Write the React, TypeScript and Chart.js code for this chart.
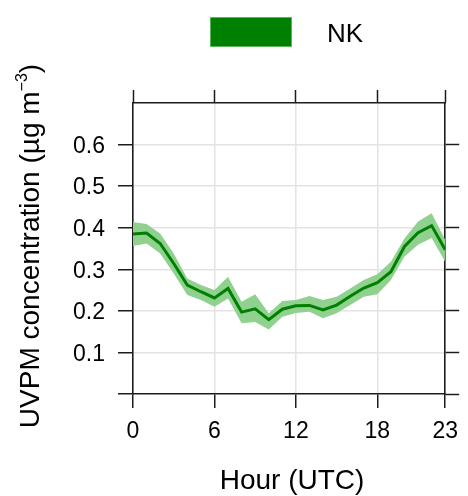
import React, { useEffect, useRef } from 'react';
import { Chart, registerables } from 'chart.js';

Chart.register(...registerables);

const hours = [0, 1, 2, 3, 4, 5, 6, 7, 8, 9, 10, 11, 12, 13, 14, 15, 16, 17, 18, 19, 20, 21, 22, 23];
const meanValues = [0.385, 0.387, 0.362, 0.314, 0.262, 0.246, 0.231, 0.254, 0.197, 0.205, 0.179, 0.204, 0.212, 0.213, 0.202, 0.214, 0.235, 0.255, 0.268, 0.294, 0.355, 0.388, 0.405, 0.347];
const upperValues = [0.414, 0.409, 0.386, 0.338, 0.278, 0.262, 0.250, 0.282, 0.222, 0.240, 0.194, 0.224, 0.226, 0.236, 0.226, 0.234, 0.254, 0.274, 0.288, 0.318, 0.374, 0.415, 0.435, 0.371];
const lowerValues = [0.356, 0.362, 0.338, 0.290, 0.238, 0.226, 0.210, 0.230, 0.170, 0.173, 0.155, 0.186, 0.195, 0.198, 0.182, 0.194, 0.214, 0.234, 0.240, 0.274, 0.331, 0.359, 0.375, 0.318];
const xTickValues = [0, 6, 12, 18, 23];
const yTickValues = [0, 0.1, 0.2, 0.3, 0.4, 0.5, 0.6, 0.7];
const yLabelledTicks = [0.1, 0.2, 0.3, 0.4, 0.5, 0.6];
const seriesName = 'NK';
const xTitle = 'Hour (UTC)';
const yTitleMain = 'UVPM concentration (\u00b5g m';
const yTitleSup = '\u22123';
const yTitleEnd = ')';

const FONT = '"Liberation Sans", Arial, Helvetica, sans-serif';
const LINE_GREEN = '#008000';
const BAND_GREEN = '#90d190';
const AXIS = '#1c1c1c';
const GRID = '#e3e3e3';

const near = (a: number, b: number) => Math.abs(a - b) < 1e-6;

const textPlugin = {
  id: 'textPlugin',
  afterDraw(chart: any) {
    const ctx = chart.ctx as CanvasRenderingContext2D;
    ctx.save();
    // legend
    ctx.fillStyle = LINE_GREEN;
    ctx.fillRect(210, 17, 82, 30);
    ctx.strokeStyle = '#5cb35c';
    ctx.lineWidth = 1;
    ctx.strokeRect(210.5, 17.5, 81, 29);
    ctx.fillStyle = '#000';
    ctx.font = `26px ${FONT}`;
    ctx.textAlign = 'left';
    ctx.textBaseline = 'alphabetic';
    ctx.fillText(seriesName, 327, 42);

    // x title
    ctx.font = `28px ${FONT}`;
    ctx.textAlign = 'center';
    ctx.fillText(xTitle, 292, 489);

    // y title
    ctx.textAlign = 'left';
    ctx.font = `28px ${FONT}`;
    const w1 = ctx.measureText(yTitleMain).width;
    const w3 = ctx.measureText(yTitleEnd).width;
    ctx.font = `16px ${FONT}`;
    const w2 = ctx.measureText(yTitleSup).width;
    const total = w1 + w2 + w3;
    ctx.translate(39, 246);
    ctx.rotate(-Math.PI / 2);
    let x = -total / 2;
    ctx.font = `28px ${FONT}`;
    ctx.fillText(yTitleMain, x, 0);
    x += w1;
    ctx.font = `16px ${FONT}`;
    ctx.fillText(yTitleSup, x, -12);
    x += w2;
    ctx.font = `28px ${FONT}`;
    ctx.fillText(yTitleEnd, x, 0);
    ctx.restore();
  },
};

const setXTicks = (scale: any) => {
  scale.ticks = xTickValues.map((v) => ({ value: v }));
};
const setYTicks = (scale: any) => {
  scale.ticks = yTickValues.map((v) => ({ value: v }));
};

export default function App() {
  const canvasRef = useRef<HTMLCanvasElement | null>(null);

  useEffect(() => {
    if (!canvasRef.current) return;
    const chart = new Chart(canvasRef.current, {
      type: 'line',
      data: {
        labels: hours,
        datasets: [
          {
            label: seriesName,
            data: hours.map((h, i) => ({ x: h, y: meanValues[i] })),
            borderColor: LINE_GREEN,
            borderWidth: 3,
            pointRadius: 0,
            tension: 0,
            fill: false,
          },
          {
            label: 'upper',
            data: hours.map((h, i) => ({ x: h, y: upperValues[i] })),
            borderWidth: 0,
            borderColor: 'rgba(0,0,0,0)',
            backgroundColor: BAND_GREEN,
            pointRadius: 0,
            tension: 0,
            fill: '+1',
          },
          {
            label: 'lower',
            data: hours.map((h, i) => ({ x: h, y: lowerValues[i] })),
            borderWidth: 0,
            borderColor: 'rgba(0,0,0,0)',
            pointRadius: 0,
            tension: 0,
            fill: false,
          },
        ],
      },
      options: {
        responsive: false,
        animation: false,
        devicePixelRatio: 1,
        layout: { padding: 0 },
        plugins: {
          legend: { display: false },
          tooltip: { enabled: false },
          title: { display: false },
        },
        scales: {
          x: {
            type: 'linear',
            position: 'bottom',
            min: 0,
            max: 23,
            afterBuildTicks: setXTicks,
            afterFit: (s: any) => { s.height = 102; },
            grid: {
              color: (c: any) => (c.tick && (c.tick.value === 0 || c.tick.value === 23) ? 'rgba(0,0,0,0)' : GRID),
              lineWidth: 1.5,
              tickColor: AXIS,
              tickWidth: 1.5,
              tickLength: 14,
              drawTicks: true,
            },
            border: { display: true, color: AXIS, width: 1.6 },
            ticks: {
              color: '#000',
              font: { family: FONT, size: 23 },
              padding: 10,
              maxRotation: 0,
              autoSkip: false,
              callback: (v: any) => String(v),
            },
          },
          xTop: {
            type: 'linear',
            position: 'top',
            display: true,
            min: 0,
            max: 23,
            afterBuildTicks: setXTicks,
            afterFit: (s: any) => { s.height = 103; },
            grid: {
              drawOnChartArea: false,
              tickColor: AXIS,
              tickWidth: 1.5,
              tickLength: 13,
              drawTicks: true,
            },
            border: { display: true, color: AXIS, width: 1.6 },
            ticks: { display: false },
          },
          y: {
            type: 'linear',
            position: 'left',
            min: 0,
            max: 0.7,
            afterBuildTicks: setYTicks,
            afterFit: (s: any) => { s.width = 133; },
            grid: {
              color: (c: any) => (c.tick && (near(c.tick.value, 0) || near(c.tick.value, 0.7)) ? 'rgba(0,0,0,0)' : GRID),
              lineWidth: 1.5,
              tickColor: (c: any) => (c.tick && near(c.tick.value, 0.7) ? 'rgba(0,0,0,0)' : AXIS),
              tickWidth: 1.5,
              tickLength: 15,
              drawTicks: true,
            },
            border: { display: true, color: AXIS, width: 1.6 },
            ticks: {
              color: '#000',
              font: { family: FONT, size: 23 },
              padding: 13,
              labelOffset: 2,
              autoSkip: false,
              callback: (v: any) => (yLabelledTicks.some((t) => near(t, Number(v))) ? Number(v).toFixed(1) : ''),
            },
          },
          yRight: {
            type: 'linear',
            position: 'right',
            display: true,
            min: 0,
            max: 0.7,
            afterBuildTicks: setYTicks,
            afterFit: (s: any) => { s.width = 16; },
            grid: {
              drawOnChartArea: false,
              tickColor: (c: any) => (c.tick && near(c.tick.value, 0.7) ? 'rgba(0,0,0,0)' : AXIS),
              tickWidth: 1.5,
              tickLength: 14,
              drawTicks: true,
            },
            border: { display: true, color: AXIS, width: 1.6 },
            ticks: { display: false },
          },
        },
      },
      plugins: [textPlugin],
    } as any);
    return () => chart.destroy();
  }, []);

  return (
    <div style={{ position: 'fixed', left: 0, top: 0, width: 468, height: 496, background: '#fff' }}>
      <canvas ref={canvasRef} width={468} height={496} style={{ display: 'block', width: 468, height: 496 }} />
    </div>
  );
}
